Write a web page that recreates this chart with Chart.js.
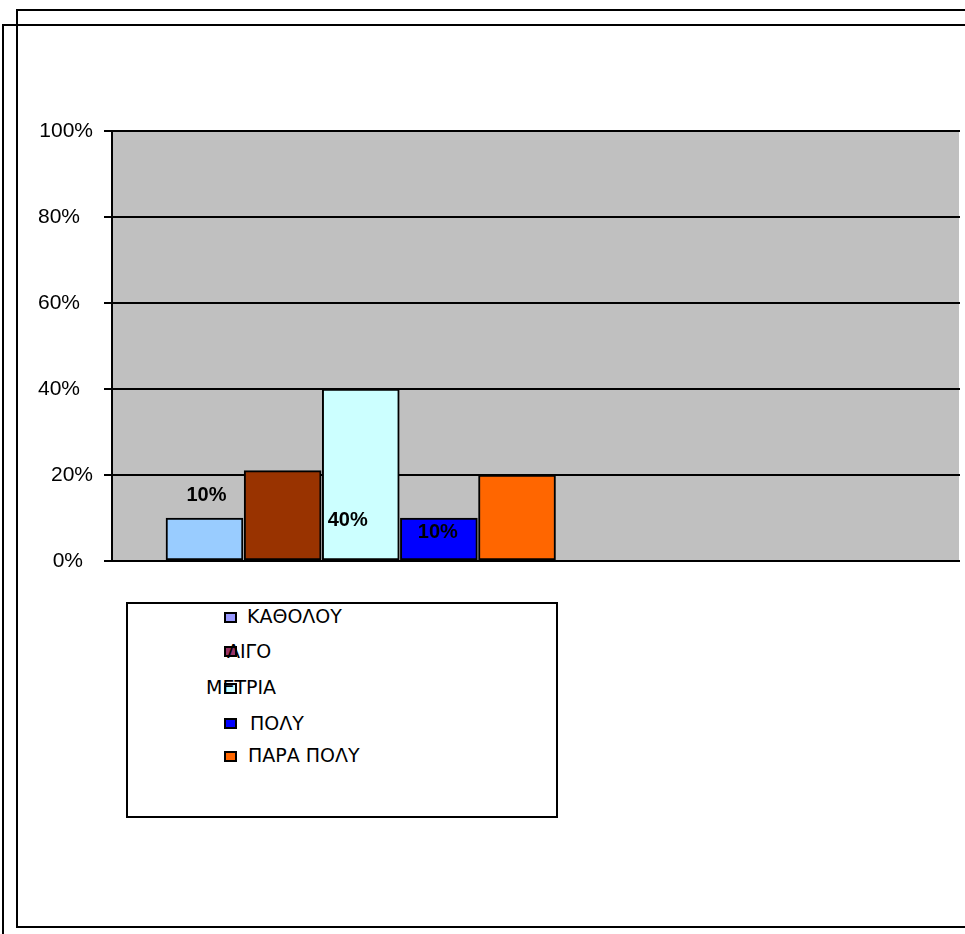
<!DOCTYPE html>
<html>
<head>
<meta charset="utf-8">
<script src="https://cdn.jsdelivr.net/npm/chart.js@4"></script>
<style>
    body {
        margin: 0;
        width: 965px;
        height: 934px;
        overflow: hidden;
        position: relative;
        background: #fff;
    }
    .frame {
        position: absolute;
        box-sizing: border-box;
        border: 2px solid #000;
    }
    #frameInner { left: 16px; top: 9px; width: 1000px; height: 919px; }
    #frameOuter { left: 2px; top: 24px; width: 1000px; height: 1000px; }
    #chartBox {
        position: absolute;
        left: 0;
        top: 0;
        width: 965px;
        height: 600px;
    }
    #legend {
        position: absolute;
        left: 126px;
        top: 602px;
        width: 432px;
        height: 216px;
        box-sizing: border-box;
        border: 2px solid #000;
        background: #fff;
        font-family: "DejaVu Sans", sans-serif;
        font-size: 19px;
        color: #000;
    }
    #legend .swatch {
        position: absolute;
        width: 13px;
        height: 11px;
        box-sizing: border-box;
        border: 2px solid #000;
    }
    #legend .name {
        position: absolute;
        line-height: 19px;
        white-space: nowrap;
    }
</style>
</head>
<body>
<div class="frame" id="frameOuter"></div>
<div class="frame" id="frameInner"></div>
<div id="chartBox"><canvas id="answersChart"></canvas></div>
<div id="legend"></div>

<script>
const categories = ["ΚΑΘΟΛΟΥ", "ΛΙΓΟ", "ΜΕΤΡΙΑ", "ΠΟΛΥ", "ΠΑΡΑ ΠΟΛΥ"];
const shares = [10, 21, 40, 10, 20];
const tickLabels = ["0%", "20%", "40%", "60%", "80%", "100%"];

const barColors = ["#99CCFF", "#993300", "#CCFFFF", "#0000FF", "#FF6600"];
const legendColors = ["#9999FF", "#993366", "#CCFFFF", "#0000FF", "#FF6600"];

// where each value label sits relative to the top of its bar (null = no label)
const labelOffsets = [
    { dx: 2, dy: -23 },
    null,
    { dx: -13, dy: 131 },
    { dx: -1, dy: 14 },
    null
];

// horizontal nudge of each y tick label, from 0% up to 100%
const tickShift = [-10, 0, -13, -13, -13, 0];

// legend rows: swatch and text positions inside the legend box
const legendLayout = [
    { box: [96, 8], text: [119, 3] },
    { box: [96, 42], text: [99, 38] },
    { box: [96, 79], text: [78, 74] },
    { box: [96, 114], text: [122, 110] },
    { box: [96, 147], text: [120, 142] }
];

const axisFont = "21px 'Liberation Sans', Arial, sans-serif";

const plotBackground = {
    id: "plotBackground",
    beforeDraw(chart) {
        const { ctx, chartArea: a } = chart;
        ctx.save();
        ctx.fillStyle = "#C0C0C0";
        ctx.fillRect(a.left, a.top, a.right - a.left - 1, a.bottom - a.top);
        ctx.restore();
    }
};

// y tick labels are drawn here so each one can be nudged on its own
const tickText = {
    id: "tickText",
    afterDraw(chart) {
        const ctx = chart.ctx;
        const scale = chart.scales.y;
        ctx.save();
        ctx.font = axisFont;
        ctx.fillStyle = "#000";
        ctx.textAlign = "right";
        ctx.textBaseline = "middle";
        scale.ticks.forEach((t, i) => {
            const y = scale.getPixelForTick(i);
            ctx.fillText(tickLabels[i], scale.right - 19 + tickShift[i], y);
        });
        ctx.restore();
    }
};

const valueLabels = {
    id: "valueLabels",
    afterDatasetsDraw(chart) {
        const ctx = chart.ctx;
        const bars = chart.getDatasetMeta(0).data;
        ctx.save();
        ctx.font = "bold 20px 'Liberation Sans', Arial, sans-serif";
        ctx.fillStyle = "#000";
        ctx.textAlign = "center";
        ctx.textBaseline = "middle";
        bars.forEach((bar, i) => {
            const off = labelOffsets[i];
            if (!off) return;
            ctx.fillText(shares[i] + "%", bar.x + off.dx, bar.y + off.dy);
        });
        ctx.restore();
    }
};

new Chart(document.getElementById("answersChart").getContext("2d"), {
    type: "bar",
    data: {
        labels: categories,
        datasets: [{
            data: shares.map((v, i) => ({ x: i, y: v })),
            backgroundColor: barColors,
            borderColor: "#000",
            borderWidth: 2,
            borderSkipped: false,
            barThickness: 77
        }]
    },
    options: {
        responsive: true,
        maintainAspectRatio: false,
        animation: false,
        layout: {
            padding: { top: 131, right: 5, bottom: 39, left: 0 }
        },
        plugins: {
            legend: { display: false },
            tooltip: { enabled: false }
        },
        scales: {
            x: {
                type: "linear",
                display: false,
                offset: false,
                min: -1.184,
                max: 9.67
            },
            y: {
                min: 0,
                max: 100,
                ticks: {
                    stepSize: 20,
                    display: false
                },
                grid: {
                    color: "#000",
                    lineWidth: 2,
                    tickLength: 8,
                    tickColor: "#000"
                },
                border: { display: true, color: "#000", width: 2 },
                afterFit(scale) {
                    scale.width = 112;
                }
            }
        }
    },
    plugins: [plotBackground, tickText, valueLabels]
});

// legend box, drawn as html
const legend = document.getElementById("legend");
categories.forEach((name, i) => {
    const pos = legendLayout[i];
    const swatch = document.createElement("div");
    swatch.className = "swatch";
    swatch.style.left = pos.box[0] + "px";
    swatch.style.top = pos.box[1] + "px";
    swatch.style.background = legendColors[i];
    legend.appendChild(swatch);

    const text = document.createElement("div");
    text.className = "name";
    text.style.left = pos.text[0] + "px";
    text.style.top = pos.text[1] + "px";
    text.textContent = name;
    legend.appendChild(text);
});
</script>
</body>
</html>
